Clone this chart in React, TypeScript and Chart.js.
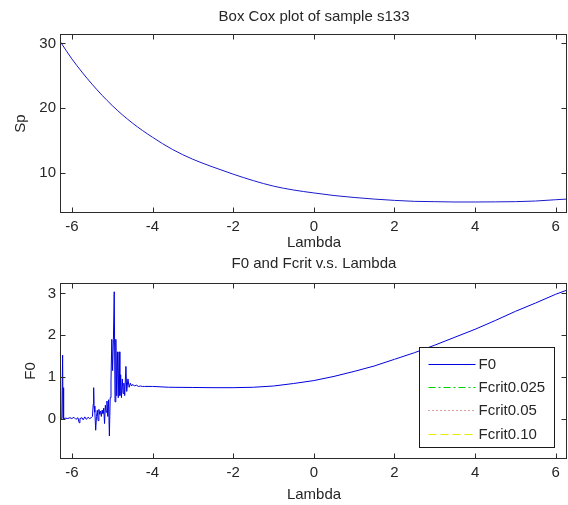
import React, { useEffect, useRef } from 'react';
import { Chart, registerables } from 'chart.js';
Chart.register(...registerables);

// ---------- data ----------
const topTitle = 'Box Cox plot of sample s133';
const bottomTitle = 'F0 and Fcrit v.s. Lambda';
const xLabel = 'Lambda';
const topYLabel = 'Sp';
const bottomYLabel = 'F0';

const lambdaTicks = [-6, -4, -2, 0, 2, 4, 6];
const spTicks = [10, 20, 30];
const f0Ticks = [0, 1, 2, 3];

const spLambda = [-6.28, -6, -5.5, -5, -4.5, -4, -3.5, -3, -2.5, -2, -1.5, -1, -0.5, 0, 0.5, 1, 1.5, 2, 2.5, 3, 3.5, 4, 4.5, 5, 5.5, 6, 6.28];
const spValues = [30.2, 27.6, 23.7, 20.4, 17.7, 15.5, 13.6, 12.1, 10.9, 9.8, 8.8, 7.95, 7.35, 6.9, 6.5, 6.2, 5.95, 5.75, 5.6, 5.55, 5.5, 5.5, 5.52, 5.55, 5.65, 5.85, 5.95];

const f0Lambda = [
  -6.28, -6.25, -6.23, -6.22, -6.21, -6.2, -6.15, -6.1, -6.05, -6.0, -5.95, -5.9, -5.85, -5.82, -5.8,
  -5.75, -5.72, -5.68, -5.64, -5.6, -5.56, -5.52, -5.49, -5.47, -5.46, -5.45, -5.43, -5.41, -5.39,
  -5.37, -5.35, -5.33, -5.31, -5.29, -5.27, -5.25, -5.23, -5.21, -5.19, -5.17, -5.15, -5.13, -5.11,
  -5.09, -5.07, -5.05, -5.03, -5.01, -4.99, -4.97, -4.95, -4.93, -4.91, -4.89, -4.87, -4.85, -4.83,
  -4.81, -4.79, -4.77, -4.75, -4.73, -4.71, -4.69, -4.66, -4.64, -4.61, -4.58, -4.55, -4.52, -4.49,
  -4.45, -4.4, -4.35, -4.3, -4.25, -4.2, -4.0, -3.6, -3.0, -2.5, -2.0, -1.5, -1.0, -0.5, 0, 0.5, 1.0,
  1.5, 2.0, 2.5, 3.0, 3.5, 4.0, 4.5, 5.0, 5.5, 6.0, 6.28,
];
const f0Values = [
  0.02, 0.0, 1.52, 0.0, 0.74, 0.0, 0.01, 0.0, 0.02, 0.0, 0.03, -0.02, 0.02, -0.1, 0.0,
  0.02, -0.03, 0.04, -0.02, 0.03, 0.0, 0.02, 0.05, 0.35, 0.74, 0.3, 0.15, -0.28, 0.05,
  0.2, -0.05, 0.22, 0.1, 0.18, 0.05, 0.2, 0.12, 0.25, -0.12, 0.32, 0.15, 0.42, 0.05,
  0.45, -0.42, 0.5, 0.9, 1.9, 1.15, 1.9, 3.04, 0.4, 1.9, 0.55, 1.6, 0.5, 1.6,
  0.55, 1.05, 0.5, 0.95, 0.6, 0.85, 0.55, 1.25, 0.65, 0.95, 0.75, 0.85, 0.78, 0.82,
  0.78, 0.8, 0.77, 0.78, 0.77, 0.77, 0.77, 0.75, 0.745, 0.74, 0.74, 0.75, 0.78, 0.84, 0.91, 1.01, 1.13,
  1.26, 1.42, 1.58, 1.76, 1.95, 2.14, 2.35, 2.57, 2.77, 2.98, 3.08,
];
// critical-value curves lie outside the visible y range; only their legend entries show
const fcrit025: number[] = [];
const fcrit05: number[] = [];
const fcrit10: number[] = [];
const legendLabels = ['F0', 'Fcrit0.025', 'Fcrit0.05', 'Fcrit0.10'];

// ---------- styling ----------
const FONT = 'Liberation Sans, Arial, Helvetica, sans-serif';
const TXT = '#262626';
const AXIS = '#2b2b2b';
const fontSpec = { family: FONT, size: 15, lineHeight: 1.2 };

const framePlugin = (title: string, titleY: number, withLegend: boolean) => ({
  id: 'frame',
  afterDatasetsDraw(chart: any) {
    const { ctx, chartArea: a } = chart;
    const xs = chart.scales.x;
    const ys = chart.scales.y;
    ctx.save();
    ctx.strokeStyle = AXIS;
    ctx.lineWidth = 1;
    const L = Math.round(a.left) - 0.5, R = Math.round(a.right) - 0.5;
    const T = Math.round(a.top) + 0.5, B = Math.round(a.bottom) - 0.5;
    ctx.strokeRect(L, T, R - L, B - T);
    const tl = 5;
    ctx.beginPath();
    xs.ticks.forEach((t: any) => {
      const px = Math.round(xs.getPixelForValue(t.value)) + 0.5;
      ctx.moveTo(px, B); ctx.lineTo(px, B - tl);
      ctx.moveTo(px, T); ctx.lineTo(px, T + tl);
    });
    ys.ticks.forEach((t: any) => {
      const py = Math.round(ys.getPixelForValue(t.value)) + 0.5;
      ctx.moveTo(L, py); ctx.lineTo(L + tl, py);
      ctx.moveTo(R, py); ctx.lineTo(R - tl, py);
    });
    ctx.stroke();

    // title centered over the axes
    ctx.fillStyle = TXT;
    ctx.font = `15px ${FONT}`;
    ctx.textAlign = 'center';
    ctx.textBaseline = 'middle';
    ctx.fillText(title, (a.left + a.right) / 2, titleY);

    if (withLegend) {
      const w = 135, h = 100;
      const bx = Math.round(a.right) - 13 - w + 0.5;
      const by = Math.round(a.bottom) - 12 - h + 0.5;
      ctx.fillStyle = '#ffffff';
      ctx.fillRect(bx, by, w, h);
      ctx.strokeStyle = '#1a1a1a';
      ctx.strokeRect(bx, by, w, h);
      chart.data.datasets.forEach((ds: any, i: number) => {
        const y = Math.round(by + 16.5 + i * 23.2) + 0.5;
        ctx.save();
        ctx.strokeStyle = ds.borderColor;
        ctx.lineWidth = 1;
        ctx.setLineDash(ds.borderDash || []);
        ctx.beginPath();
        ctx.moveTo(bx + 9, y);
        ctx.lineTo(bx + 56, y);
        ctx.stroke();
        ctx.restore();
        ctx.fillStyle = TXT;
        ctx.textAlign = 'left';
        ctx.textBaseline = 'middle';
        ctx.fillText(ds.label, bx + 59, y);
      });
    }
    ctx.restore();
  },
});

const pts = (xs: number[], ys: number[]) => xs.map((x, i) => ({ x, y: ys[i] }));

function makeOptions(
  ymin: number, ymax: number, yTicks: number[], yLabel: string,
  topPad: number, xAxisH: number, xTitlePadB: number, yTitlePad: number,
) {
  return {
    responsive: false,
    animation: false as const,
    events: [],
    layout: { padding: { left: 0, right: 1, top: topPad, bottom: 0 } },
    plugins: { legend: { display: false }, title: { display: false }, tooltip: { enabled: false }, colors: { enabled: false } },
    scales: {
      x: {
        type: 'linear' as const,
        min: -6.27,
        max: 6.28,
        afterBuildTicks: (s: any) => { s.ticks = lambdaTicks.map((v) => ({ value: v })); },
        afterFit: (s: any) => { s.height = xAxisH; },
        grid: { display: false, drawTicks: false },
        border: { display: false },
        ticks: { autoSkip: false, maxRotation: 0, padding: 5, color: TXT, font: fontSpec },
        title: { display: true, text: xLabel, color: TXT, font: fontSpec, padding: { top: 0, bottom: xTitlePadB } },
      },
      y: {
        type: 'linear' as const,
        min: ymin,
        max: ymax,
        afterBuildTicks: (s: any) => { s.ticks = yTicks.map((v) => ({ value: v })); },
        afterFit: (s: any) => { s.width = 61; },
        grid: { display: false, drawTicks: false },
        border: { display: false },
        ticks: { autoSkip: false, padding: 5, color: TXT, font: fontSpec },
        title: { display: true, text: yLabel, color: TXT, font: fontSpec, padding: { top: yTitlePad, bottom: 0 } },
      },
    },
  };
}

export default function App() {
  const topRef = useRef<HTMLCanvasElement>(null);
  const botRef = useRef<HTMLCanvasElement>(null);

  useEffect(() => {
    const top = new Chart(topRef.current!, {
      type: 'line',
      data: {
        datasets: [
          {
            label: topYLabel,
            data: pts(spLambda, spValues),
            borderColor: '#1a1acc',
            borderWidth: 1,
            pointRadius: 0,
            cubicInterpolationMode: 'monotone',
            fill: false,
          },
        ],
      },
      options: makeOptions(3.8, 31.45, spTicks, topYLabel, 34, 39, 0, 12) as any,
      plugins: [framePlugin(topTitle, 17, false)],
    });

    const bot = new Chart(botRef.current!, {
      type: 'line',
      data: {
        datasets: [
          { label: legendLabels[0], data: pts(f0Lambda, f0Values), borderColor: '#0000e0', borderWidth: 1, pointRadius: 0, tension: 0, fill: false },
          { label: legendLabels[1], data: pts([], fcrit025), borderColor: '#00d000', borderDash: [7, 3, 2, 3], borderWidth: 1, pointRadius: 0, fill: false },
          { label: legendLabels[2], data: pts([], fcrit05), borderColor: '#c04040', borderDash: [1, 3], borderWidth: 1, pointRadius: 0, fill: false },
          { label: legendLabels[3], data: pts([], fcrit10), borderColor: '#e8e800', borderDash: [8, 4], borderWidth: 1, pointRadius: 0, fill: false },
        ],
      },
      options: makeOptions(-0.97, 3.25, f0Ticks, bottomYLabel, 31, 46, 1, 22) as any,
      plugins: [framePlugin(bottomTitle, 12, true)],
    });

    return () => {
      top.destroy();
      bot.destroy();
    };
  }, []);

  return (
    <div style={{ position: 'absolute', left: 0, top: 0, width: 568, height: 505, background: '#fff' }}>
      <canvas ref={topRef} width={568} height={252} style={{ position: 'absolute', left: 0, top: 0, display: 'block' }} />
      <canvas ref={botRef} width={568} height={253} style={{ position: 'absolute', left: 0, top: 252, display: 'block' }} />
    </div>
  );
}
